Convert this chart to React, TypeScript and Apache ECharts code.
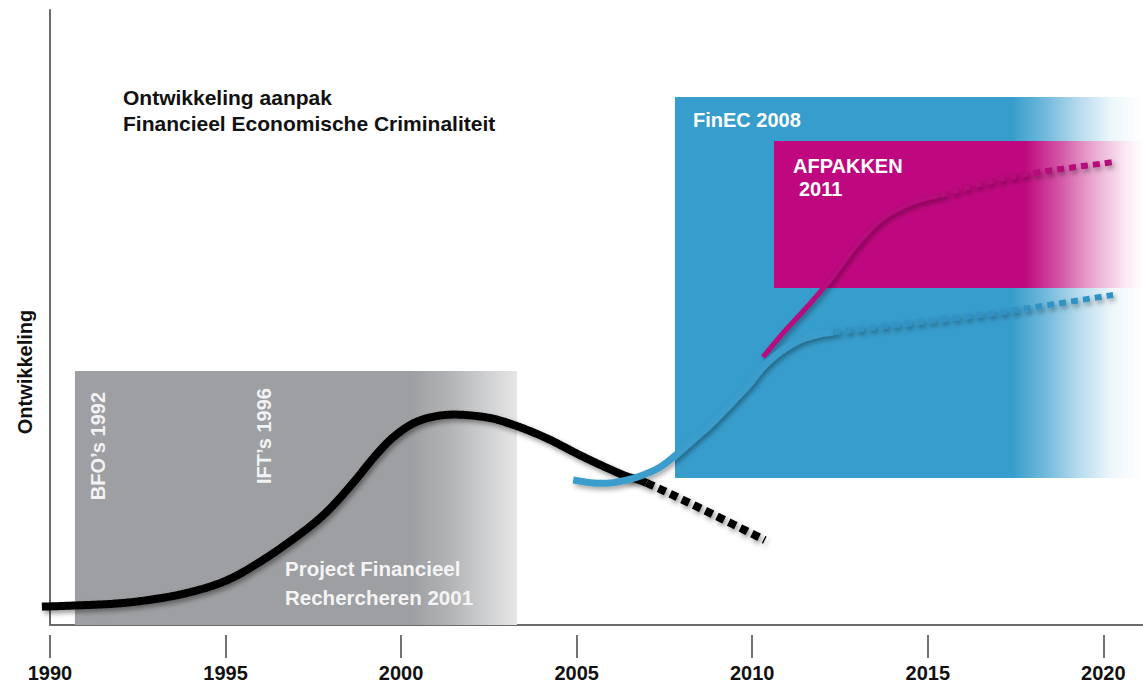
import React, { useEffect, useRef } from "react";
import * as echarts from "echarts";

// ---- data ----
const xTicks = [1990, 1995, 2000, 2005, 2010, 2015, 2020];
const xMin = 1990;
const xMax = 2021.13;
const yMin = 0;
const yMax = 100;

// blocks: [xStart, xEnd, yBottom, yTop]
const grayBlock = [1990.71, 2003.3, 0, 41.3];
const blueBlock = [2007.8, 2021.13, 23.9, 85.85];
const magentaBlock = [2010.62, 2021.13, 54.8, 78.7];

const blackSolid = [
  [1989.77, 2.98], [1991.68, 3.41], [1992.81, 4.07], [1993.93, 5.25], [1995.06, 7.32],
  [1996.18, 11.0], [1997.31, 15.6], [1997.97, 18.9], [1998.66, 23.3], [1999.23, 27.3],
  [1999.79, 30.6], [2000.45, 33.06], [2001.25, 34.15], [2002.15, 33.98], [2002.93, 33.06],
  [2004.06, 30.6], [2005.18, 27.37], [2006.32, 24.4], [2006.99, 23.1],
];
const blackDashed = [[2006.99, 23.1], [2008.66, 18.6], [2010.36, 13.8]];
const blueSolid = [
  [2004.9, 23.58], [2005.47, 23.09], [2005.95, 23.09], [2006.43, 23.58], [2006.89, 24.39],
  [2007.38, 25.69], [2007.86, 27.8], [2008.31, 30.08], [2008.8, 32.52], [2009.22, 34.96],
  [2009.57, 37.07], [2009.94, 39.35], [2010.31, 41.95], [2010.79, 44.39], [2011.36, 46.34],
  [2011.93, 47.32], [2012.3, 47.64],
];
const blueDotted = [[2012.3, 47.64], [2016.86, 50.73], [2020.28, 53.66]];
const magentaSolid = [
  [2010.31, 43.58], [2010.88, 47.48], [2011.56, 51.71], [2012.22, 56.1], [2012.79, 60.49],
  [2013.27, 63.74], [2013.73, 66.18], [2014.21, 67.8], [2014.78, 69.1], [2015.35, 69.92],
];
const magentaDotted = [[2015.35, 69.92], [2017.34, 72.85], [2020.28, 75.28]];

const FONT = '"Liberation Sans", Arial, Helvetica, sans-serif';

const grayStops = [
  { offset: 0, color: "#9d9fa2" },
  { offset: 0.76, color: "#9d9fa2" },
  { offset: 0.85, color: "#b3b4b6" },
  { offset: 0.94, color: "#d2d3d4" },
  { offset: 1, color: "#e6e6e7" },
];
const blueStops = [
  { offset: 0, color: "#379dcc" },
  { offset: 0.72, color: "#379dcc" },
  { offset: 0.795, color: "#74bbdd" },
  { offset: 0.865, color: "#b9dcee" },
  { offset: 0.935, color: "#eef7fb" },
  { offset: 1, color: "#ffffff" },
];
const magentaStops = [
  { offset: 0, color: "#bf087f" },
  { offset: 0.68, color: "#bf087f" },
  { offset: 0.775, color: "#d356a5" },
  { offset: 0.865, color: "#e9a9d0" },
  { offset: 0.955, color: "#fbeaf4" },
  { offset: 1, color: "#ffffff" },
];

function blockSeries(data: number[][], stops: any[][], z: number) {
  return {
    type: "custom",
    z,
    silent: true,
    clip: false,
    encode: { x: [0, 1], y: [2, 3] },
    data,
    renderItem: (params: any, api: any) => {
      const p0 = api.coord([api.value(0), api.value(3)]);
      const p1 = api.coord([api.value(1), api.value(2)]);
      return {
        type: "rect",
        shape: { x: p0[0], y: p0[1], width: p1[0] - p0[0], height: p1[1] - p0[1] },
        style: { fill: new echarts.graphic.LinearGradient(0, 0, 1, 0, stops[params.dataIndex]) },
      };
    },
  };
}

// Smooth (Catmull-Rom) stroke through the data points, positioned by the axes (api.coord).
function curveSeries(
  pts: number[][],
  color: string,
  width: number,
  z: number,
  opts: { dash?: number[]; shadow?: number; before?: number[]; after?: number[] } = {}
) {
  const shadow = opts.shadow ?? 0.4;
  return {
    type: "custom",
    z,
    silent: true,
    clip: false,
    encode: { x: 0, y: 1 },
    data: pts,
    renderItem: (params: any, api: any) => {
      if (params.dataIndex !== 0) return null;
      const P = pts.map((p) => api.coord(p));
      const B = opts.before ? api.coord(opts.before) : null;
      const A = opts.after ? api.coord(opts.after) : null;
      const out: number[][] = [];
      const n = P.length;
      for (let i = 0; i < n - 1; i++) {
        const p0 = i > 0 ? P[i - 1] : B || P[i];
        const p1 = P[i];
        const p2 = P[i + 1];
        const p3 = i + 2 < n ? P[i + 2] : A || P[i + 1];
        const c1 = [p1[0] + (p2[0] - p0[0]) / 6, p1[1] + (p2[1] - p0[1]) / 6];
        const c2 = [p2[0] - (p3[0] - p1[0]) / 6, p2[1] - (p3[1] - p1[1]) / 6];
        const steps = 24;
        for (let k = 0; k < steps; k++) {
          const t = k / steps;
          const u = 1 - t;
          const a = u * u * u, b = 3 * u * u * t, c = 3 * u * t * t, d = t * t * t;
          out.push([
            a * p1[0] + b * c1[0] + c * c2[0] + d * p2[0],
            a * p1[1] + b * c1[1] + c * c2[1] + d * p2[1],
          ]);
        }
      }
      out.push(P[n - 1]);
      return {
        type: "polyline",
        shape: { points: out },
        style: {
          fill: null,
          stroke: color,
          lineWidth: width,
          lineDash: opts.dash || null,
          lineCap: "butt",
          lineJoin: "round",
          shadowColor: `rgba(0,0,0,${shadow})`,
          shadowBlur: 5,
          shadowOffsetX: 2,
          shadowOffsetY: 3,
        },
      };
    },
  };
}

export default function App() {
  const ref = useRef<HTMLDivElement>(null);
  useEffect(() => {
    document.body.style.margin = "0";
    const chart = echarts.init(ref.current!, null, { renderer: "svg" });
    const txt = (x: number, y: number, text: string, extra: any = {}) => ({
      type: "text",
      x,
      y,
      silent: true,
      z: 100,
      style: {
        text,
        fill: "#ffffff",
        fontSize: 20,
        fontWeight: "bold",
        fontFamily: FONT,
        textAlign: "left",
        textVerticalAlign: "middle",
        ...extra.style,
      },
      ...(extra.rotation !== undefined ? { rotation: extra.rotation } : {}),
    });
    chart.setOption({
      animation: false,
      backgroundColor: "#ffffff",
      grid: { left: 50, right: 0, top: 10, bottom: 58, containLabel: false },
      xAxis: [
        {
          type: "value",
          min: xMin,
          max: xMax,
          axisLine: { show: true, onZero: true, lineStyle: { color: "#6b6b6b", width: 2 } },
          axisTick: { show: false },
          axisLabel: { show: false },
          splitLine: { show: false },
        },
        {
          type: "value",
          min: xMin,
          max: xMax,
          position: "bottom",
          offset: 10,
          axisLine: { show: false },
          axisTick: { show: true, length: 23, customValues: xTicks, lineStyle: { color: "#444", width: 1.5 } },
          axisLabel: {
            customValues: xTicks,
            margin: 28,
            fontSize: 20,
            fontWeight: "bold",
            color: "#111",
            fontFamily: FONT,
            formatter: (v: number) => String(v),
          },
          splitLine: { show: false },
        },
      ],
      yAxis: {
        type: "value",
        min: yMin,
        max: yMax,
        axisLine: { show: true, lineStyle: { color: "#6b6b6b", width: 2 } },
        axisTick: { show: false },
        axisLabel: { show: false },
        splitLine: { show: false },
      },
      series: [
        blockSeries([grayBlock], [grayStops], 1),
        curveSeries(blackSolid, "#000000", 8, 2, { after: blackDashed[1] }),
        curveSeries(blackDashed, "#000000", 8, 2, { dash: [8, 5], before: blackSolid[blackSolid.length - 2] }),
        blockSeries([blueBlock, magentaBlock], [blueStops, magentaStops], 3),
        curveSeries(magentaSolid, "#b8077b", 5, 4, { shadow: 0.35, after: magentaDotted[1] }),
        curveSeries(magentaDotted, "#b5077a", 6, 4, {
          dash: [7, 5],
          shadow: 0.35,
          before: magentaSolid[magentaSolid.length - 2],
        }),
        curveSeries(blueSolid, "#3a9dcc", 7, 5, { shadow: 0.35, after: blueDotted[1] }),
        curveSeries(blueDotted, "#3292c4", 6, 5, {
          dash: [7, 5],
          shadow: 0.35,
          before: blueSolid[blueSolid.length - 2],
        }),
      ],
      graphic: [
        {
          type: "text",
          x: 123,
          y: 84,
          silent: true,
          z: 100,
          style: {
            text: "Ontwikkeling aanpak\nFinancieel Economische Criminaliteit",
            fill: "#111111",
            fontSize: 21,
            fontWeight: "bold",
            fontFamily: FONT,
            lineHeight: 26,
            textAlign: "left",
            textVerticalAlign: "top",
          },
        },
        txt(25, 372, "Ontwikkeling", { rotation: Math.PI / 2, style: { fill: "#111111", textAlign: "center" } }),
        txt(98, 392, "BFO’s 1992", { rotation: Math.PI / 2, style: { fill: "#f2f2f2", textAlign: "right" } }),
        txt(264, 388, "IFT’s 1996", { rotation: Math.PI / 2, style: { fill: "#f2f2f2", textAlign: "right" } }),
        txt(285, 568, "Project Financieel", { style: { fill: "#f4f4f4", fontSize: 20.5 } }),
        txt(285, 597, "Rechercheren 2001", { style: { fill: "#f4f4f4", fontSize: 20.5 } }),
        txt(693, 119.5, "FinEC 2008"),
        txt(793, 166, "AFPAKKEN"),
        txt(799, 189, "2011"),
      ],
    });
    return () => chart.dispose();
  }, []);
  return <div ref={ref} style={{ position: "absolute", left: 0, top: 0, width: 1143, height: 683 }} />;
}
